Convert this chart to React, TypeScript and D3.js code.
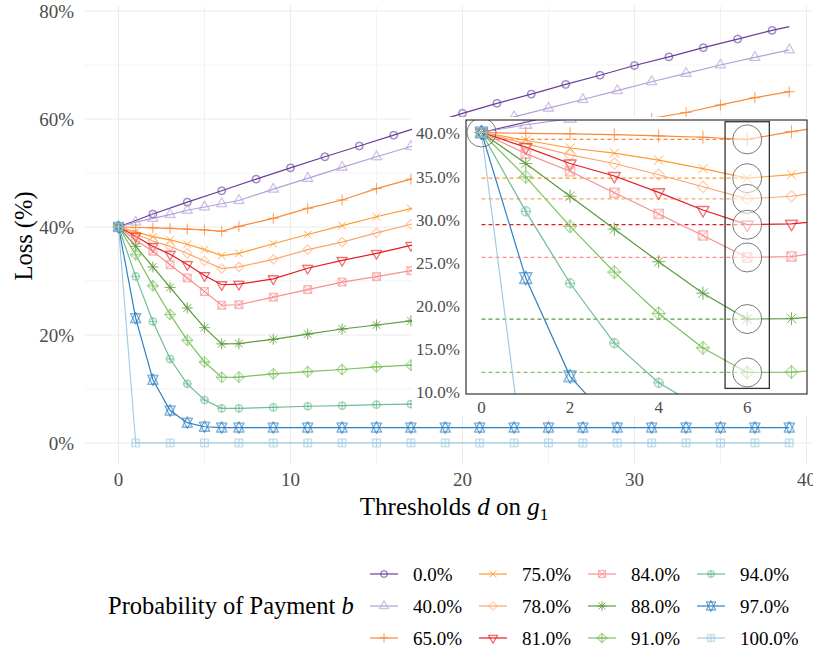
import React from 'react';
import * as d3 from 'd3';

// ---------- data ----------
const probLabels = ['0.0%', '40.0%', '65.0%', '75.0%', '78.0%', '81.0%', '84.0%', '88.0%', '91.0%', '94.0%', '97.0%', '100.0%'];
const seriesColors = ['#6a3d9a', '#b49fd8', '#fb8a3a', '#ff9b30', '#fca66c', '#e8191e', '#f98f8f', '#5b9c3c', '#7cc25e', '#6fbd95', '#2f80c2', '#a3cce4'];
const seriesShapes = [1, 2, 3, 4, 5, 6, 7, 8, 9, 10, 11, 12];

const dEven = [0, 2, 4, 6, 8, 10, 12, 14, 16, 18, 20, 22, 24, 26, 28, 30, 32, 34, 36, 38, 39];
const dMain = [0, 1, 2, 3, 4, 5, 6, 7, 9, 11, 13, 15, 17, 19, 21, 23, 25, 27, 29, 31, 33, 35, 37, 39];
const dOdd = [0, 1, 3, 5, 7, 9, 11, 13, 15, 17, 19, 21, 23, 25, 27, 29, 31, 33, 35, 37, 39];

const loss000 = [40, 42.4, 44.6, 46.7, 48.85, 50.95, 53.0, 55.0, 57.0, 59.05, 61.05, 62.9, 64.6, 66.4, 68.1, 69.9, 71.5, 73.2, 74.8, 76.4, 77.1];
const loss400 = [40, 40.9, 41.6, 42.3, 43.1, 43.7, 44.3, 44.9, 47.0, 49.0, 51.05, 53.0, 54.9, 56.9, 58.7, 60.4, 62.0, 63.6, 65.25, 66.9, 68.45, 70.0, 71.4, 72.8];
const loss650 = [40, 39.9, 39.85, 39.75, 39.6, 39.45, 39.2, 40.1, 41.6, 43.45, 45.0, 47.1, 48.85, 50.5, 52.1, 53.7, 55.3, 56.9, 58.5, 60.1, 61.2, 62.6, 63.95, 65.05];
const loss750 = [40, 39.1, 38.2, 37.6, 36.8, 35.8, 34.7, 35.1, 36.9, 38.6, 40.25, 41.9, 43.4, 44.9];
const loss780 = [40, 38.7, 37.4, 36.4, 35.1, 33.7, 32.3, 32.6, 34.0, 35.8, 37.2, 38.9, 40.5, 42.0];
const loss810 = [40, 38.3, 36.4, 34.95, 33.05, 31.0, 29.3, 29.4, 30.4, 32.35, 33.8, 35.1, 36.6, 38.0];
const loss840 = [40, 37.55, 35.5, 33.0, 30.55, 28.05, 25.5, 25.6, 27.0, 28.4, 29.8, 30.8, 31.9, 33.0];
const loss880 = [40, 36.4, 32.6, 28.8, 25.0, 21.35, 18.35, 18.4, 19.2, 20.15, 21.1, 21.85, 22.6, 23.4];
const loss910 = [40, 34.85, 29.1, 23.8, 19.0, 15.0, 12.15, 12.2, 12.8, 13.2, 13.6, 14.1, 14.4, 14.8];
const loss940 = [40, 30.85, 22.5, 15.55, 10.95, 7.95, 6.4, 6.4, 6.6, 6.8, 6.9, 7.1, 7.2, 7.35];
const loss970 = [40, 23.1, 11.7, 6.0, 3.75, 3.0, 2.85, 2.85, 2.85, 2.85, 2.85, 2.85, 2.85, 2.85, 2.85, 2.85, 2.85, 2.85, 2.85, 2.85, 2.85, 2.85, 2.85, 2.85];
const loss1000 = [40, 0, 0, 0, 0, 0, 0, 0, 0, 0, 0, 0, 0, 0, 0, 0, 0, 0, 0, 0, 0];

const seriesThresholds = [dEven, dMain, dMain, dMain, dMain, dMain, dMain, dMain, dMain, dMain, dMain, dOdd];
const seriesLoss = [loss000, loss400, loss650, loss750, loss780, loss810, loss840, loss880, loss910, loss940, loss970, loss1000];
const lastPointMarked = [false, true, true, true, true, true, true, true, true, true, true, true];

// series whose minima are highlighted in the inset
const highlighted = ['65.0%', '75.0%', '78.0%', '81.0%', '84.0%', '88.0%', '91.0%'];

const mainXTicks = [0, 10, 20, 30, 40];
const mainXMinor = [5, 15, 25, 35];
const mainYTicks = [0, 20, 40, 60, 80];
const mainYMinor = [10, 30, 50, 70];
const insetXTicks = [0, 2, 4, 6];
const insetYTicks = [10, 15, 20, 25, 30, 35, 40];
const boxD = [5.5, 6.5];
const boxLoss = [10.3, 41.25];

type Series = { label: string; color: string; shape: number; pts: { d: number; v: number }[]; markLast: boolean };
const series: Series[] = probLabels.map((label, i) => ({
  label,
  color: seriesColors[i],
  shape: seriesShapes[i],
  pts: seriesLoss[i].map((v, j) => ({ d: seriesThresholds[i][j], v })),
  markLast: lastPointMarked[i],
}));

// ---------- marker shapes (R pch) ----------
function pchPath(p: number, R: number): string {
  const f = (n: number) => n.toFixed(2);
  const circle = (r: number) => `M${f(-r)},0A${f(r)},${f(r)} 0 1,0 ${f(r)},0A${f(r)},${f(r)} 0 1,0 ${f(-r)},0Z`;
  const tr = 1.5551 * R, tyc = 0.7776 * R, txc = 1.3468 * R;
  switch (p) {
    case 1: return circle(R);
    case 2: return `M0,${f(-tr)}L${f(txc)},${f(tyc)}L${f(-txc)},${f(tyc)}Z`;
    case 3: { const h = 1.4142 * R; return `M${f(-h)},0H${f(h)}M0,${f(-h)}V${f(h)}`; }
    case 4: return `M${f(-R)},${f(-R)}L${f(R)},${f(R)}M${f(-R)},${f(R)}L${f(R)},${f(-R)}`;
    case 5: { const h = 1.2533 * R; return `M0,${f(-h)}L${f(h)},0L0,${f(h)}L${f(-h)},0Z`; }
    case 6: return `M0,${f(tr)}L${f(txc)},${f(-tyc)}L${f(-txc)},${f(-tyc)}Z`;
    case 7: return `M${f(-R)},${f(-R)}H${f(R)}V${f(R)}H${f(-R)}ZM${f(-R)},${f(-R)}L${f(R)},${f(R)}M${f(-R)},${f(R)}L${f(R)},${f(-R)}`;
    case 8: { const h = 1.4142 * R; return `M${f(-h)},0H${f(h)}M0,${f(-h)}V${f(h)}M${f(-R)},${f(-R)}L${f(R)},${f(R)}M${f(-R)},${f(R)}L${f(R)},${f(-R)}`; }
    case 9: { const h = 1.4142 * R; return `M0,${f(-h)}L${f(h)},0L0,${f(h)}L${f(-h)},0ZM${f(-h)},0H${f(h)}M0,${f(-h)}V${f(h)}`; }
    case 10: return circle(R) + `M${f(-R)},0H${f(R)}M0,${f(-R)}V${f(R)}`;
    case 11: { const yc = 0.5 * (0.7776 + 1.5551) * R; return `M0,${f(-tr)}L${f(txc)},${f(yc)}L${f(-txc)},${f(yc)}ZM0,${f(tr)}L${f(txc)},${f(-yc)}L${f(-txc)},${f(-yc)}Z`; }
    case 12: return `M${f(-R)},${f(-R)}H${f(R)}V${f(R)}H${f(-R)}ZM${f(-R)},0H${f(R)}M0,${f(-R)}V${f(R)}`;
    default: return circle(R);
  }
}

// markers drawn as a slightly doubled outline, like the reference
const Marker = ({ x, y, shape, color, R, sw = 0.85, op = 0.75 }: any) => (
  <g transform={`translate(${x},${y})`} fill="none" stroke={color} strokeWidth={sw} strokeOpacity={op}>
    <path d={pchPath(shape, R)} />
    <path d={pchPath(shape, R * 0.82)} strokeOpacity={op * 0.6} />
  </g>
);

const SERIF = 'Liberation Serif, DejaVu Serif, Times New Roman, serif';

export default function App() {
  const W = 813, H = 650;
  // main scales
  const x = d3.scaleLinear().domain([-1.95, 40.95]).range([84.96, 822.8]);
  const y = d3.scaleLinear().domain([-3.86, 80.96]).range([463.8, 5.8]);
  // inset scales
  const xi = d3.scaleLinear().domain([-0.35, 7.35]).range([466, 807]);
  const yi = d3.scaleLinear().domain([9.65, 41.45]).range([394, 120]);

  const lineMain = d3.line<{ d: number; v: number }>().x(p => x(p.d)).y(p => y(p.v));
  const lineInset = d3.line<{ d: number; v: number }>().x(p => xi(p.d)).y(p => yi(p.v));

  const gridColor = '#ebebeb';
  const [px0, px1] = x.range();
  const [py0, py1] = y.range();

  const hlSeries = series.filter(s => highlighted.includes(s.label));
  const minima = hlSeries.map(s => {
    const m = s.pts.reduce((a, b) => (b.v < a.v ? b : a));
    return { s, d: m.d, v: m.v };
  });

  const legendCols = [384, 493, 602, 711];
  const legendRows = [574, 606, 638];

  return (
    <svg width={W} height={H} viewBox={`0 0 ${W} ${H}`} fontFamily={SERIF} style={{ position: 'absolute', left: 0, top: 0, background: '#fff' }}>
      <defs>
        <clipPath id="mainClip"><rect x={px0} y={py1} width={px1 - px0} height={py0 - py1} /></clipPath>
        <clipPath id="insetClip"><rect x={466} y={120} width={341} height={274} /></clipPath>
      </defs>
      <rect x={0} y={0} width={W} height={H} fill="#fff" />

      {/* main grid */}
      {mainYMinor.map(t => <line key={'ym' + t} x1={px0} x2={px1} y1={y(t)} y2={y(t)} stroke={gridColor} strokeWidth={0.6} />)}
      {mainXMinor.map(t => <line key={'xm' + t} x1={x(t)} x2={x(t)} y1={py1} y2={py0} stroke={gridColor} strokeWidth={0.6} />)}
      {mainYTicks.map(t => <line key={'yM' + t} x1={px0} x2={px1} y1={y(t)} y2={y(t)} stroke={gridColor} strokeWidth={1.1} />)}
      {mainXTicks.map(t => <line key={'xM' + t} x1={x(t)} x2={x(t)} y1={py1} y2={py0} stroke={gridColor} strokeWidth={1.1} />)}

      {/* main series */}
      <g clipPath="url(#mainClip)">
        {series.map(s => (
          <path key={'l' + s.label} d={lineMain(s.pts) || ''} fill="none" stroke={s.color} strokeWidth={1.2} />
        ))}
        {series.map(s => s.pts.map((p, j) => (!s.markLast && j === s.pts.length - 1) ? null : (
          <Marker key={'m' + s.label + j} x={x(p.d)} y={y(p.v)} shape={s.shape} color={s.color} R={4.0} />
        )))}
      </g>

      {/* main axes labels */}
      {mainYTicks.map(t => (
        <text key={'yl' + t} x={74} y={y(t)} dy="0.35em" textAnchor="end" fontSize={19} fill="#4d4d4d">{t}%</text>
      ))}
      {mainXTicks.map(t => (
        <text key={'xl' + t} x={x(t)} y={486} textAnchor="middle" fontSize={19} fill="#4d4d4d">{t}</text>
      ))}
      <text x={454} y={515} textAnchor="middle" fontSize={25} fill="#000">
        Thresholds <tspan fontStyle="italic">d</tspan> on <tspan fontStyle="italic">g</tspan><tspan fontSize={17} dy={5}>1</tspan>
      </text>
      <text transform={`translate(32,236) rotate(-90)`} textAnchor="middle" fontSize={24.5} fill="#000">Loss (%)</text>

      {/* inset */}
      <rect x={412} y={117} width={W - 412} height={299} fill="#fff" />
      <g clipPath="url(#insetClip)">
        {minima.map(m => (
          <line key={'dash' + m.s.label} x1={xi(0)} x2={xi(m.d)} y1={yi(m.v)} y2={yi(m.v)} stroke={m.s.color} strokeWidth={1.2} strokeDasharray="4,3" />
        ))}
        {series.map(s => (
          <path key={'il' + s.label} d={lineInset(s.pts) || ''} fill="none" stroke={s.color} strokeWidth={1.2} />
        ))}
        {series.map(s => s.pts.filter(p => p.d <= 7.5).map((p, j) => (
          <Marker key={'im' + s.label + j} x={xi(p.d)} y={yi(p.v)} shape={s.shape} color={s.color} R={4.8} />
        )))}
        <circle cx={xi(0)} cy={yi(40)} r={14.5} fill="none" stroke="#444" strokeWidth={0.7} />
        {minima.map(m => (
          <circle key={'c' + m.s.label} cx={xi(m.d)} cy={yi(m.v)} r={14.5} fill="#fff" fillOpacity={0.55} stroke="#444" strokeWidth={0.7} />
        ))}
        <rect x={xi(boxD[0])} y={yi(boxLoss[1])} width={xi(boxD[1]) - xi(boxD[0])} height={yi(boxLoss[0]) - yi(boxLoss[1])} fill="none" stroke="#333" strokeWidth={1.3} />
      </g>
      <rect x={466} y={120} width={341} height={274} fill="none" stroke="#222" strokeWidth={1.1} />
      {insetYTicks.map(t => (
        <text key={'iyl' + t} x={460} y={yi(t) + 1} dy="0.35em" textAnchor="end" fontSize={17} fill="#4d4d4d">{t.toFixed(1)}%</text>
      ))}
      {insetXTicks.map(t => (
        <text key={'ixl' + t} x={xi(t)} y={413} textAnchor="middle" fontSize={17} fill="#4d4d4d">{t}</text>
      ))}

      {/* legend */}
      <text x={108} y={614} fontSize={24.5} fill="#000">Probability of Payment <tspan fontStyle="italic">b</tspan></text>
      {series.map((s, i) => {
        const cx = legendCols[Math.floor(i / 3)];
        const cy = legendRows[i % 3];
        return (
          <g key={'lg' + s.label}>
            <line x1={cx - 14} x2={cx + 14} y1={cy} y2={cy} stroke={s.color} strokeWidth={1.2} />
            <Marker x={cx} y={cy} shape={s.shape} color={s.color} R={3.6} />
            <text x={cx + 29} y={cy} dy="0.35em" fontSize={19} fill="#000">{s.label}</text>
          </g>
        );
      })}
    </svg>
  );
}
